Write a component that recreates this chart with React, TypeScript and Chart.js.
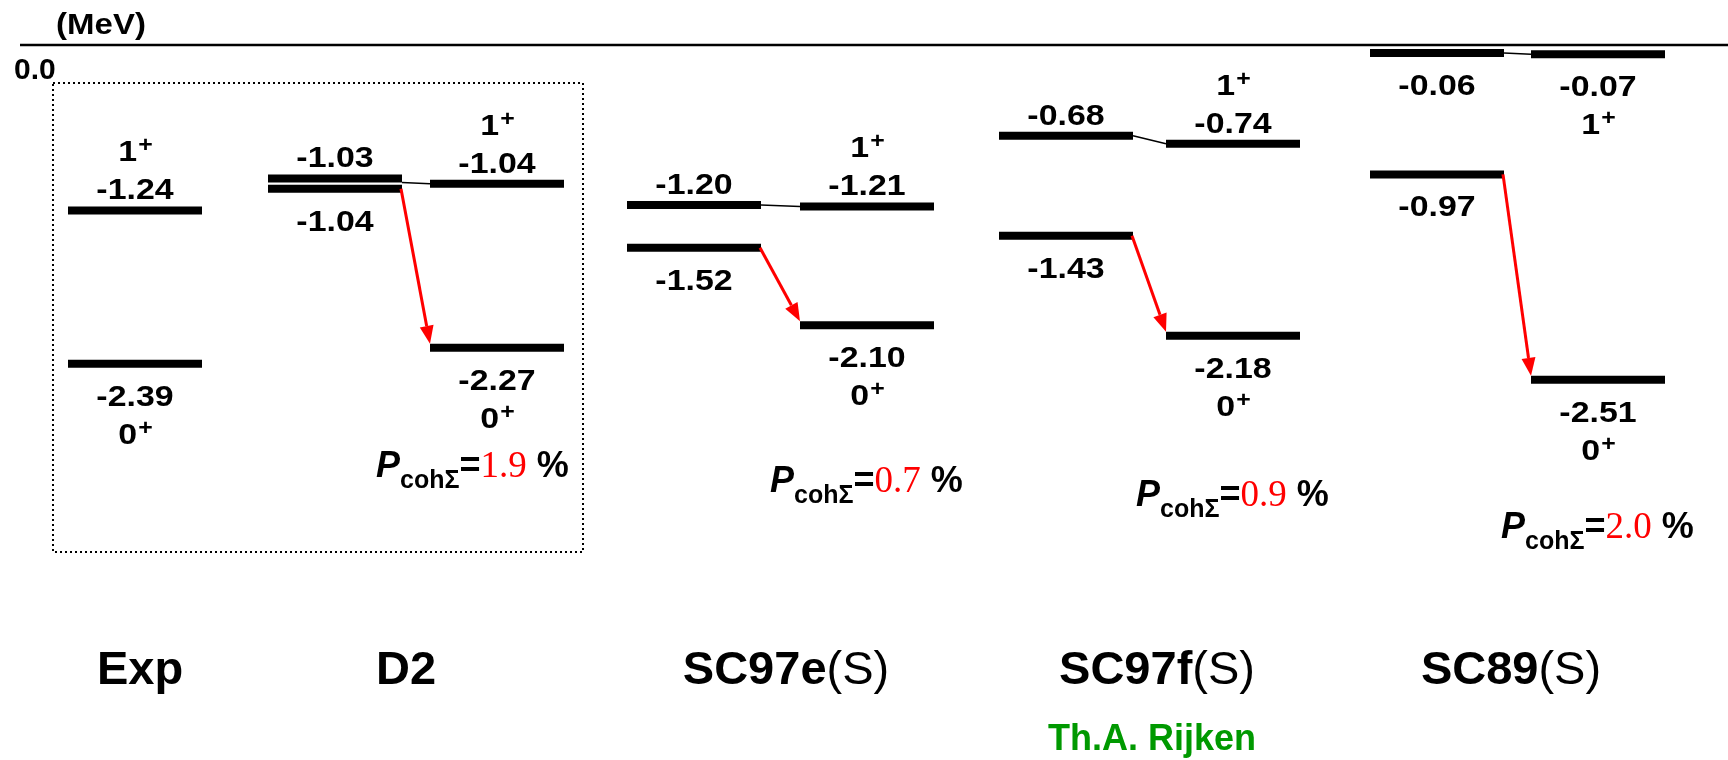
import React, { useEffect, useRef } from 'react';
import { Chart, registerables } from 'chart.js';

Chart.register(...registerables);

// ---------------- data ----------------
const models = ['Exp', 'D2', 'SC97e', 'SC97f', 'SC89'];
const modelSuffix = ['', '', '(S)', '(S)', '(S)'];
// left sub-column (before coupling) levels, MeV
const leftUpper: (number | null)[] = [null, -1.03, -1.2, -0.68, -0.06];
const leftLower: (number | null)[] = [null, -1.04, -1.52, -1.43, -0.97];
// right sub-column 1+ and 0+ levels, MeV
const onePlus = [-1.24, -1.04, -1.21, -0.74, -0.07];
const zeroPlus = [-2.39, -2.27, -2.1, -2.18, -2.51];
// coherent Sigma probability, %
const pCoh: (number | null)[] = [null, 1.9, 0.7, 0.9, 2.0];
const unitLabel = '(MeV)';
const zeroLabel = '0.0';
const creditLabel = 'Th.A. Rijken';

// ---------------- layout / style ----------------
const W = 1728;
const H = 760;
const ZERO_PX = 45;
const PX_PER_MEV = 133.4;
const slotL = [135, 335, 694, 1066, 1437];
const slotR = [135, 497, 867, 1233, 1598];
const HW = 67;
const upperSide = ['', 'above', 'above', 'above', 'below'];
const onePlusSide = ['above', 'above', 'above', 'above', 'below'];
const nudgeUpper = [0, -4, 0, 0, 0];
const nudgeLower = [0, 5, 0, 0, 0];
const modelLabelX = [140, 406, 786, 1157, 1511];
const modelLabelY = 684;
const pX = [0, 376, 770, 1136, 1501];
const pY = [0, 477, 492, 506, 538];
const SANS = '"Liberation Sans", Arial, Helvetica, sans-serif';
const SERIF = '"Liberation Serif", "Times New Roman", serif';
const RED = '#ff0000';
const GREEN = '#009900';
const STRETCH = 1.13;

type LabelSpec = { x: number; E: number; nudge: number; side: string; jpi: string | null };

function buildChartData() {
  const datasets: any[] = [];
  const labels: LabelSpec[] = [];
  const bar = (xc: number, E: number, nudge: number) => ({
    data: [
      { x: xc - HW, y: E },
      { x: xc + HW, y: E },
    ],
    borderColor: '#000',
    backgroundColor: '#000',
    borderWidth: 8,
    borderCapStyle: 'butt',
    pointRadius: 0,
    fill: false,
    nudgePx: nudge,
  });
  models.forEach((_, i) => {
    const lu = leftUpper[i];
    const ll = leftLower[i];
    if (lu != null) {
      datasets.push(bar(slotL[i], lu, nudgeUpper[i]));
      labels.push({ x: slotL[i], E: lu, nudge: nudgeUpper[i], side: upperSide[i], jpi: null });
      datasets.push({
        data: [
          { x: slotL[i] + HW, y: lu },
          { x: slotR[i] - HW, y: onePlus[i] },
        ],
        borderColor: '#000',
        borderWidth: 1.5,
        pointRadius: 0,
        fill: false,
      });
    }
    if (ll != null) {
      datasets.push(bar(slotL[i], ll, nudgeLower[i]));
      labels.push({ x: slotL[i], E: ll, nudge: nudgeLower[i], side: 'below', jpi: null });
    }
    datasets.push(bar(slotR[i], onePlus[i], 0));
    labels.push({ x: slotR[i], E: onePlus[i], nudge: 0, side: onePlusSide[i], jpi: '1' });
    datasets.push(bar(slotR[i], zeroPlus[i], 0));
    labels.push({ x: slotR[i], E: zeroPlus[i], nudge: 0, side: 'below', jpi: '0' });
  });
  return { datasets, labels };
}

function fillStretched(
  ctx: CanvasRenderingContext2D,
  text: string,
  x: number,
  y: number,
  sx: number,
  align: CanvasTextAlign
) {
  ctx.save();
  ctx.translate(x, y);
  ctx.scale(sx, 1);
  ctx.textAlign = align;
  ctx.fillText(text, 0, 0);
  ctx.restore();
}

function drawJpi(ctx: CanvasRenderingContext2D, j: string, xc: number, base: number) {
  ctx.font = `bold 30px ${SANS}`;
  const w1 = ctx.measureText(j).width * STRETCH;
  ctx.font = `bold 22px ${SANS}`;
  const w2 = ctx.measureText('+').width * STRETCH;
  const x0 = xc - (w1 + w2) / 2;
  ctx.font = `bold 30px ${SANS}`;
  fillStretched(ctx, j, x0, base, STRETCH, 'left');
  ctx.font = `bold 22px ${SANS}`;
  fillStretched(ctx, '+', x0 + w1 + 1, base - 9, STRETCH, 'left');
}

export default function App() {
  const ref = useRef<HTMLCanvasElement | null>(null);

  useEffect(() => {
    document.body.style.margin = '0';
    const canvas = ref.current;
    if (!canvas) return;
    const { datasets, labels } = buildChartData();

    const nudgePlugin = {
      id: 'nudge',
      beforeDatasetDraw(chart: any, args: any) {
        const ds = chart.data.datasets[args.index];
        chart.ctx.save();
        if (ds.nudgePx) chart.ctx.translate(0, ds.nudgePx);
      },
      afterDatasetDraw(chart: any) {
        chart.ctx.restore();
      },
    };

    const decorPlugin = {
      id: 'decor',
      beforeDatasetsDraw(chart: any) {
        const ctx: CanvasRenderingContext2D = chart.ctx;
        const ys = chart.scales.y;
        const y0 = ys.getPixelForValue(0);
        ctx.save();
        ctx.strokeStyle = '#000';
        ctx.lineWidth = 2.5;
        ctx.beginPath();
        ctx.moveTo(20, y0);
        ctx.lineTo(W, y0);
        ctx.stroke();
        ctx.lineWidth = 2;
        ctx.setLineDash([2, 3]);
        ctx.strokeRect(53, 83, 530, 469);
        ctx.setLineDash([]);
        ctx.restore();
      },
      afterDraw(chart: any) {
        const ctx: CanvasRenderingContext2D = chart.ctx;
        const xs = chart.scales.x;
        const ys = chart.scales.y;
        ctx.save();
        ctx.fillStyle = '#000';
        ctx.textBaseline = 'alphabetic';

        // unit + zero labels
        ctx.font = `bold 30px ${SANS}`;
        fillStretched(ctx, unitLabel, 101, 34, 1.1, 'center');
        fillStretched(ctx, zeroLabel, 14, 79, 1.0, 'left');

        // red transition arrows
        for (let i = 0; i < models.length; i++) {
          const ll = leftLower[i];
          if (ll == null) continue;
          const x1 = xs.getPixelForValue(slotL[i] + HW) - 1;
          const y1 = ys.getPixelForValue(ll) + nudgeLower[i];
          const x2 = xs.getPixelForValue(slotR[i] - HW);
          const y2 = ys.getPixelForValue(zeroPlus[i]) - 4;
          const ang = Math.atan2(y2 - y1, x2 - x1);
          const headL = 18;
          const headW = 7;
          const bx = x2 - headL * Math.cos(ang);
          const by = y2 - headL * Math.sin(ang);
          ctx.strokeStyle = RED;
          ctx.fillStyle = RED;
          ctx.lineWidth = 3;
          ctx.beginPath();
          ctx.moveTo(x1, y1);
          ctx.lineTo(bx, by);
          ctx.stroke();
          ctx.beginPath();
          ctx.moveTo(x2, y2);
          ctx.lineTo(bx + headW * Math.sin(ang), by - headW * Math.cos(ang));
          ctx.lineTo(bx - headW * Math.sin(ang), by + headW * Math.cos(ang));
          ctx.closePath();
          ctx.fill();
        }

        // level labels
        ctx.fillStyle = '#000';
        labels.forEach((l) => {
          const x = xs.getPixelForValue(l.x);
          const y = ys.getPixelForValue(l.E) + l.nudge;
          const num = l.E.toFixed(2);
          ctx.font = `bold 30px ${SANS}`;
          if (l.side === 'above') {
            fillStretched(ctx, num, x, y - 11, STRETCH, 'center');
            if (l.jpi) drawJpi(ctx, l.jpi, x, y - 49);
          } else {
            fillStretched(ctx, num, x, y + 42, STRETCH, 'center');
            if (l.jpi) drawJpi(ctx, l.jpi, x, y + 80);
          }
        });

        // P_cohSigma labels
        for (let i = 0; i < models.length; i++) {
          const p = pCoh[i];
          if (p == null) continue;
          let x = pX[i];
          const b = pY[i];
          ctx.textAlign = 'left';
          ctx.fillStyle = '#000';
          ctx.font = `italic bold 36px ${SANS}`;
          ctx.fillText('P', x, b);
          x += ctx.measureText('P').width;
          ctx.font = `bold 25px ${SANS}`;
          ctx.fillText('cohΣ', x, b + 11);
          x += ctx.measureText('cohΣ').width;
          ctx.font = `bold 36px ${SANS}`;
          ctx.fillText('=', x, b);
          x += ctx.measureText('=').width;
          ctx.fillStyle = RED;
          ctx.font = `37px ${SERIF}`;
          const ps = p.toFixed(1);
          ctx.fillText(ps, x, b);
          x += ctx.measureText(ps).width;
          ctx.fillStyle = '#000';
          ctx.font = `bold 36px ${SANS}`;
          ctx.fillText(' %', x, b);
        }

        // model labels
        for (let i = 0; i < models.length; i++) {
          ctx.font = `bold 47px ${SANS}`;
          const w1 = ctx.measureText(models[i]).width;
          ctx.font = `47px ${SANS}`;
          const w2 = modelSuffix[i] ? ctx.measureText(modelSuffix[i]).width : 0;
          const x0 = modelLabelX[i] - (w1 + w2) / 2;
          ctx.textAlign = 'left';
          ctx.fillStyle = '#000';
          ctx.font = `bold 47px ${SANS}`;
          ctx.fillText(models[i], x0, modelLabelY);
          if (modelSuffix[i]) {
            ctx.font = `47px ${SANS}`;
            ctx.fillText(modelSuffix[i], x0 + w1, modelLabelY);
          }
        }

        // credit
        ctx.fillStyle = GREEN;
        ctx.font = `bold 36px ${SANS}`;
        ctx.textAlign = 'center';
        ctx.fillText(creditLabel, 1152, 750);
        ctx.restore();
      },
    };

    const chart = new Chart(canvas, {
      type: 'line',
      data: { datasets },
      options: {
        animation: false,
        responsive: false,
        maintainAspectRatio: false,
        layout: { padding: 0 },
        plugins: { legend: { display: false }, tooltip: { enabled: false } },
        elements: { point: { radius: 0 }, line: { tension: 0 } },
        scales: {
          x: { type: 'linear', display: false, min: 0, max: W },
          y: {
            type: 'linear',
            display: false,
            min: -(H - ZERO_PX) / PX_PER_MEV,
            max: ZERO_PX / PX_PER_MEV,
          },
        },
      } as any,
      plugins: [nudgePlugin, decorPlugin],
    });
    return () => chart.destroy();
  }, []);

  return (
    <div style={{ width: W, height: H, background: '#fff' }}>
      <canvas ref={ref} width={W} height={H} style={{ display: 'block' }} />
    </div>
  );
}
